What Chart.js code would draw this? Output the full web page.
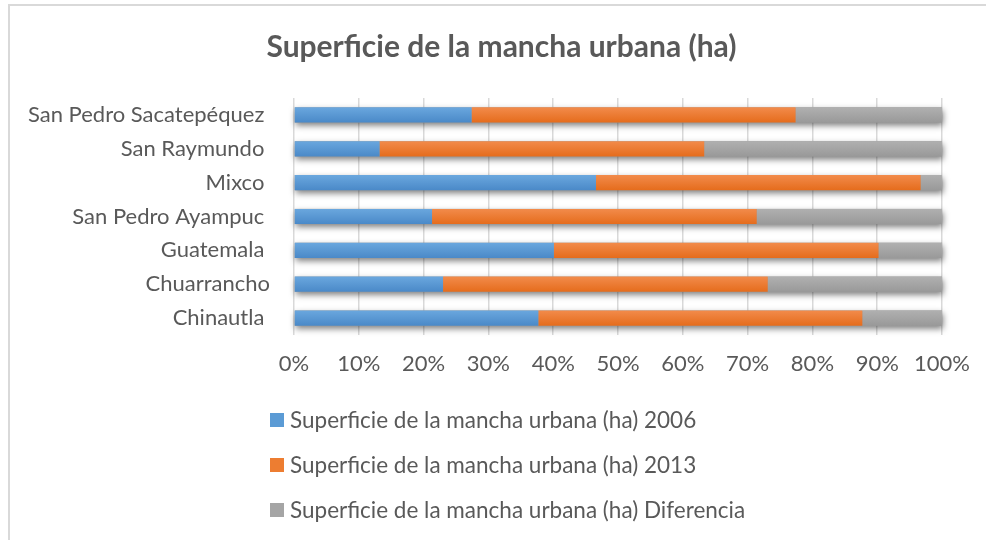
<!DOCTYPE html>
<html>
<head>
<meta charset="utf-8">
<script src="https://cdn.jsdelivr.net/npm/chart.js@4.4.1/dist/chart.umd.min.js"></script>
<style>
  html, body { margin: 0; padding: 0; background: #ffffff; overflow: hidden; }
  #wrap { position: relative; width: 986px; height: 540px; }
  #frame { position: absolute; left: 8px; top: 4px; width: 1000px; height: 560px; border: 2px solid #d9d9d9; box-sizing: border-box; }
  #c { position: absolute; left: 0; top: 0; }
</style>
</head>
<body>
<div id="wrap">
  <div id="frame"></div>
  <canvas id="c" width="986" height="540"></canvas>
</div>
<script>
const chartTitle = "Superficie de la mancha urbana (ha)";
const categories = [
  "San Pedro Sacatepéquez ",
  "San Raymundo ",
  "Mixco ",
  "San Pedro Ayampuc ",
  "Guatemala ",
  "Chuarrancho",
  "Chinautla "
];
const seriesNames = [
  "Superficie de la mancha urbana (ha) 2006",
  "Superficie de la mancha urbana (ha) 2013",
  "Superficie de la mancha urbana (ha) Diferencia"
];
// shares of each bar (percent)
const values2006 = [27.4, 13.2, 46.6, 21.3, 40.1, 23.0, 37.7];
const values2013 = [50.0, 50.1, 50.1, 50.1, 50.1, 50.1, 50.0];
const valuesDif  = [22.6, 36.7, 3.3, 28.6, 9.8, 26.9, 12.3];
const xTicks = [0, 10, 20, 30, 40, 50, 60, 70, 80, 90, 100];

const FONT = "Lato, 'Open Sans', 'DejaVu Sans', sans-serif";
const TEXT = "#595959";
const palette = [
  { top: "#6aa7de", bot: "#4a89c8", flat: "#5b9bd5" },
  { top: "#f28b4b", bot: "#e56c1c", flat: "#ed7d31" },
  { top: "#b0b0b0", bot: "#999999", flat: "#a5a5a5" }
];

function gradFor(idx) {
  return function (ctx) {
    const chart = ctx.chart;
    const y = chart.scales && chart.scales.y;
    if (!y || ctx.dataIndex === undefined || !chart.chartArea) return palette[idx].flat;
    const cy = y.getPixelForValue(ctx.dataIndex);
    const h = y.getPixelForValue(1) - y.getPixelForValue(0);
    const half = Math.abs(h) * 0.45 / 2;
    const g = chart.ctx.createLinearGradient(0, cy - half, 0, cy + half);
    g.addColorStop(0, palette[idx].top);
    g.addColorStop(1, palette[idx].bot);
    return g;
  };
}

const titlePlugin = {
  id: "offsetTitle",
  afterDraw(chart) {
    const ctx = chart.ctx;
    ctx.save();
    ctx.font = "bold 30px " + FONT;
    ctx.fillStyle = TEXT;
    ctx.textAlign = "center";
    ctx.textBaseline = "middle";
    ctx.fillText(chartTitle, (17 + chart.width) / 2, 47);
    ctx.restore();
  }
};

const shadowPlugin = {
  id: "barShadow",
  beforeDatasetsDraw(chart) {
    const ctx = chart.ctx;
    const metas = chart.data.datasets.map((d, i) => chart.getDatasetMeta(i));
    ctx.save();
    ctx.shadowColor = "rgba(0,0,0,0.5)";
    ctx.shadowBlur = 6;
    ctx.shadowOffsetX = 1;
    ctx.shadowOffsetY = 3;
    ctx.fillStyle = "#9a9a9a";
    const first = metas[0].data;
    const last = metas[metas.length - 1].data;
    for (let i = 0; i < first.length; i++) {
      const b0 = first[i], b1 = last[i];
      const left = b0.base;
      const right = b1.x;
      ctx.fillRect(left, b0.y - b0.height / 2, right - left, b0.height);
    }
    ctx.restore();
  }
};

const legendPlugin = {
  id: "stackLegend",
  afterDraw(chart) {
    const ctx = chart.ctx;
    const xs = chart.scales.x;
    const x0 = 270;
    const startY = xs.bottom + 40;
    ctx.save();
    ctx.font = "22.5px " + FONT;
    ctx.textBaseline = "middle";
    ctx.textAlign = "left";
    chart.data.datasets.forEach((ds, i) => {
      const y = startY + i * 45;
      ctx.fillStyle = palette[i].flat;
      ctx.fillRect(x0, y - 7, 14, 14);
      ctx.fillStyle = TEXT;
      ctx.fillText(ds.label, x0 + 20, y + 1);
    });
    ctx.restore();
  }
};

new Chart(document.getElementById("c"), {
  type: "bar",
  data: {
    labels: categories,
    datasets: [
      { label: seriesNames[0], data: values2006, backgroundColor: gradFor(0) },
      { label: seriesNames[1], data: values2013, backgroundColor: gradFor(1) },
      { label: seriesNames[2], data: valuesDif,  backgroundColor: gradFor(2) }
    ]
  },
  options: {
    indexAxis: "y",
    responsive: false,
    animation: false,
    borderSkipped: false,
    datasets: { bar: { barPercentage: 0.45, categoryPercentage: 1.0, borderWidth: 0 } },
    layout: { padding: { left: 0, right: 21, top: 98, bottom: 160 } },
    plugins: {
      legend: { display: false },
      tooltip: { enabled: false },
      title: { display: false }
    },
    scales: {
      x: {
        stacked: true,
        min: 0,
        max: 100,
        afterBuildTicks(scale) { scale.ticks = xTicks.map(v => ({ value: v })); },
        afterFit(scale) { scale.height = 45; },
        ticks: {
          color: TEXT,
          font: { family: FONT, size: 22 },
          padding: 16,
          callback: (v) => v + "%"
        },
        grid: { color: "#d9d9d9", lineWidth: 1.5, drawTicks: false },
        border: { display: false }
      },
      y: {
        stacked: true,
        afterFit(scale) { scale.width = 294; },
        ticks: {
          color: TEXT,
          font: { family: FONT, size: 22 },
          padding: 24
        },
        grid: { display: false, drawTicks: false },
        border: { display: false }
      }
    }
  },
  plugins: [titlePlugin, shadowPlugin, legendPlugin]
});
</script>
</body>
</html>
